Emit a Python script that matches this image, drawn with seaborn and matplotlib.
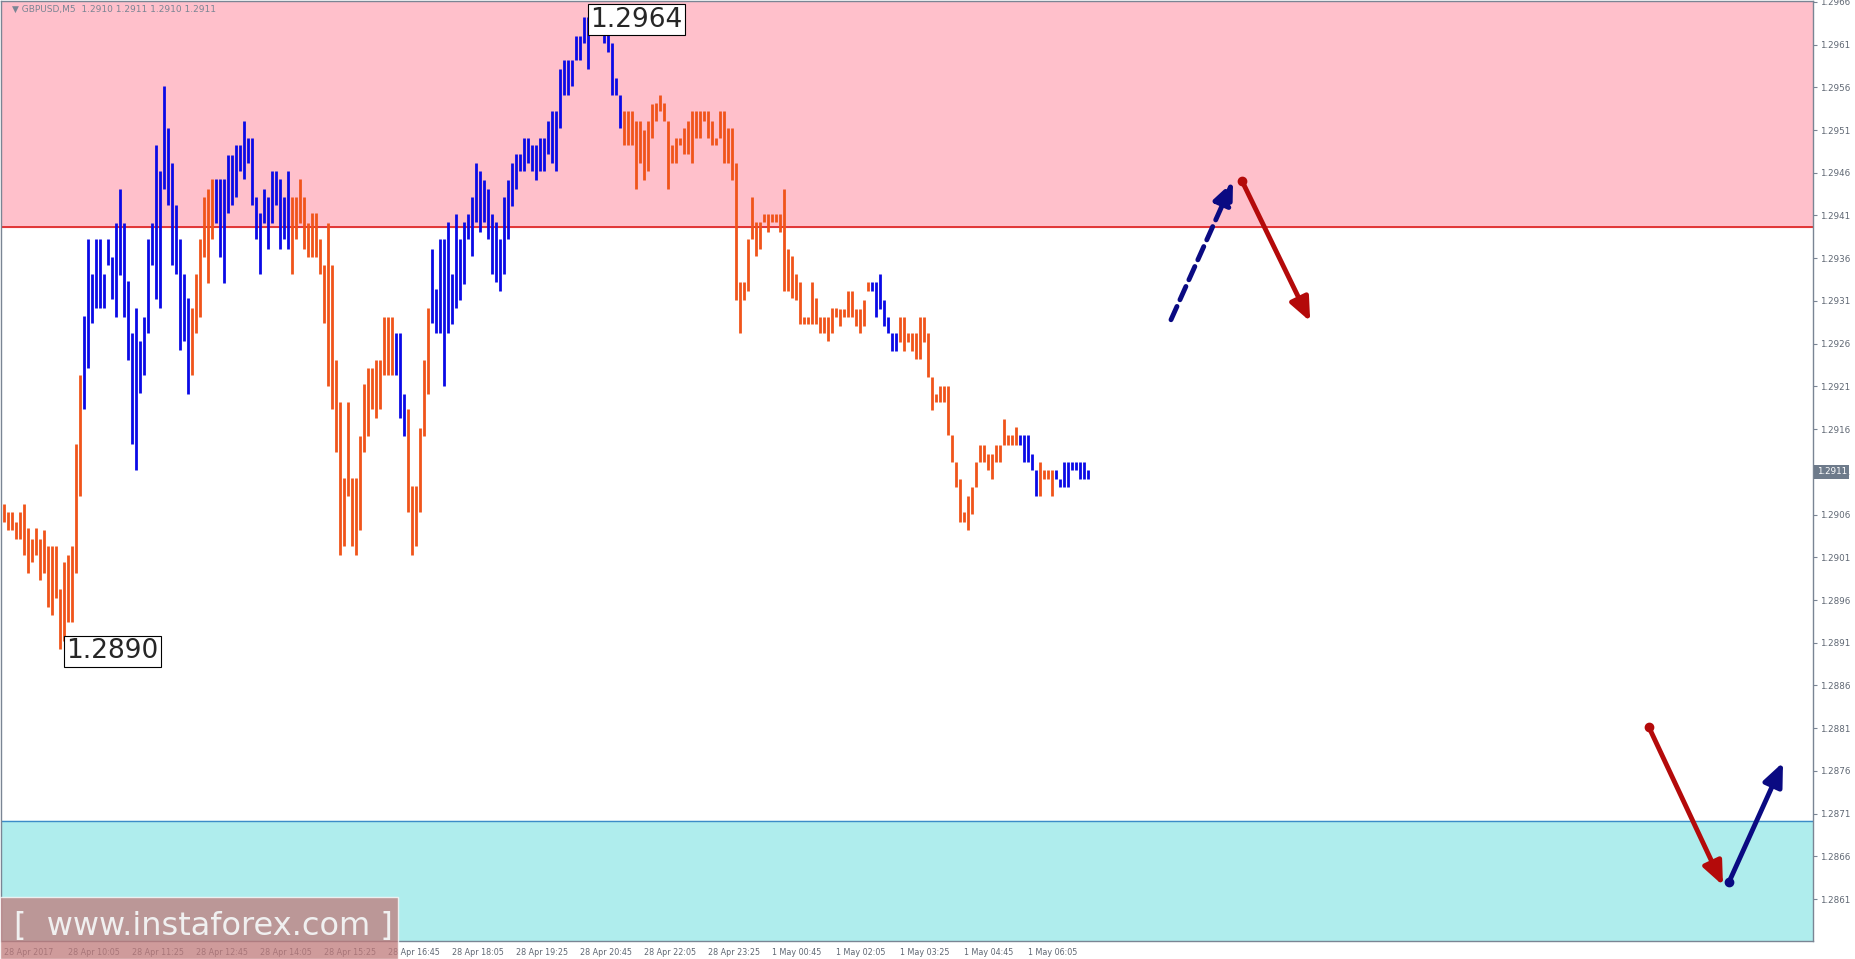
import matplotlib
matplotlib.use("Agg")
import matplotlib.pyplot as plt
import matplotlib.patches as mpatches
import numpy as np
import pandas as pd
import seaborn as sns

# GBPUSD M5 bars, prices as pips above 1.2800
BASE = 1.2800
high_pips = [107.2, 106.3, 106.3, 105.1, 106.3, 107.2, 104.4, 103.2, 104.4, 103.2, 104.2, 102.3, 102.3, 102.3,
             97.3, 100.4, 101.3, 102.3, 114.3, 122.3, 129.2, 138.2, 134.2, 138.2, 138.2, 134.2, 138.2, 136.1,
             140.1, 144.1, 140.1, 133.3, 127.2, 130.2, 126.3, 129.1, 138.2, 140.1, 149.2, 146.2, 156.2, 151.2,
             147.2, 142.2, 138.2, 134.2, 131.4, 130.2, 134.2, 138.2, 143.2, 144.1, 145.3, 145.3, 145.3, 145.3,
             148.1, 148.1, 149.2, 149.2, 152.1, 150.1, 150.1, 143.2, 141.3, 144.1, 143.2, 146.2, 146.2, 145.3,
             143.2, 146.2, 143.2, 143.2, 145.3, 143.2, 140.1, 141.3, 141.3, 138.2, 135.2, 140.1, 135.2, 124.1,
             119.2, 110.3, 119.2, 110.3, 110.3, 115.2, 121.3, 123.2, 123.2, 124.1, 124.1, 129.1, 129.1, 129.1,
             127.2, 127.2, 120.1, 118.3, 109.3, 109.3, 116.1, 124.1, 130.2, 137.1, 132.4, 138.2,
             138.2, 140.2, 134.1, 141.2, 138.2, 140.2, 141.2, 143.2, 147.1, 146.2, 145.1, 144.1, 141.2, 140.2,
             138.2, 143.2, 145.1, 147.1, 148.2, 148.2, 150.1, 150.1, 149.3, 149.3, 150.1, 150.1, 152.1, 153.2,
             153.2, 158.1, 159.2, 159.2, 159.2, 162.0, 162.0, 164.2, 164.2, 164.2, 164.2, 164.2, 164.2, 162.2,
             161.2, 157.1, 155.1, 153.2, 153.2, 153.2, 152.1, 152.1, 151.0, 152.1, 154.0, 154.2, 155.1, 154.2,
             152.1, 149.3, 150.1, 150.1, 151.2, 152.1, 153.2, 153.2, 153.2, 153.2, 153.2, 152.1, 150.1, 153.2,
             153.2, 151.2, 151.2, 147.1, 133.2, 133.2, 138.2, 143.2, 140.2, 140.2, 141.2, 141.2, 141.2, 141.2,
             141.2, 144.1, 137.1, 136.3, 134.1, 133.2, 129.1, 129.1, 133.2, 131.3, 129.1, 129.1, 129.1, 130.2,
             130.2,
             130.1, 130.1, 132.2, 132.2, 130.1, 130.1, 131.1, 133.2, 133.2, 133.2, 134.2, 131.1, 129.1, 127.2,
             127.2, 129.1, 129.1, 127.2, 127.2, 127.2, 129.1, 129.1, 127.2, 122.1, 120.1, 121.1, 121.1, 121.1,
             115.3, 112.1, 110.2, 106.3, 108.2, 109.2, 112.1, 114.1, 114.1, 113.1, 113.1, 114.1, 114.1, 117.2,
             115.3, 115.3, 116.2, 115.3, 115.3, 115.3, 113.1, 111.2, 112.1, 111.2, 111.2, 111.2, 111.2, 110.2,
             112.1, 112.1, 112.1, 112.1, 112.1, 112.1, 111.2]
low_pips = [105.1, 104.2, 104.2, 103.2, 103.2, 101.3, 99.2, 100.4, 101.3, 98.3, 99.2, 95.2, 94.3, 96.2,
            90.3, 91.2, 93.4, 93.4, 99.2, 108.2, 118.3, 123.2, 128.4, 130.2, 130.2, 130.2, 135.2, 131.2,
            129.1, 134.0, 129.1, 124.1, 114.3, 111.2, 120.2, 122.3, 127.2, 135.2, 131.2, 130.2, 144.1, 142.2,
            135.2, 134.2, 125.3, 126.3, 120.1, 122.3, 127.2, 129.1, 136.1, 133.1, 138.2, 140.1, 136.1, 133.1,
            141.3, 142.2, 143.2, 146.2, 145.3, 147.2, 142.2, 138.2, 134.2, 140.1, 137.1, 140.1, 142.2, 137.1,
            138.2, 137.1, 134.2, 138.2, 140.1, 137.1, 136.1, 136.1, 136.1, 134.2, 128.4, 121.1, 118.3, 113.3,
            101.3, 102.3, 108.2, 102.3, 101.3, 104.2, 113.3, 115.2, 118.3, 117.3, 118.3, 122.3, 122.3, 122.3,
            122.3, 117.3, 115.2, 106.3, 101.3, 102.3, 106.3, 115.2, 120.1, 128.4, 127.2, 127.2,
            121.1, 127.2, 128.3, 130.2, 131.1, 133.0, 138.2, 136.3, 140.2, 139.1, 140.2, 138.2, 134.1, 133.2,
            132.2, 134.1, 138.2, 142.1, 144.1, 146.2, 146.2, 147.1, 146.2, 145.1, 146.2, 146.2, 148.2, 147.1,
            146.2, 151.2, 155.1, 155.1, 156.2, 159.2, 159.2, 161.2, 158.1, 162.2, 162.2, 162.2, 161.2, 160.1,
            155.1, 155.1, 151.2, 149.3, 149.3, 149.3, 144.1, 147.1, 145.1, 146.2, 150.1, 152.1, 153.2, 152.1,
            144.1, 147.1, 147.1, 149.3, 148.2, 148.2, 147.1, 150.1, 150.1, 152.1, 150.1, 149.3, 149.3, 150.1,
            147.1, 147.1, 145.1, 131.1, 127.2, 131.1, 132.2, 138.2, 136.3, 137.1, 140.2, 139.1, 140.2, 140.2,
            139.1, 132.2, 132.2, 131.3, 131.1, 128.3, 128.3, 128.3, 128.3, 128.3, 127.2, 127.2, 126.3, 127.2,
            129.1,
            128.1, 129.1, 129.1, 129.1, 128.1, 127.2, 128.1, 132.2, 132.2, 129.1, 130.1, 128.1, 127.2, 125.2,
            125.2, 126.2, 125.2, 126.2, 125.2, 124.2, 124.2, 126.2, 122.1, 118.2, 119.2, 119.2, 119.2, 115.3,
            112.1, 109.2, 105.1, 105.1, 104.2, 106.1, 109.2, 112.1, 112.1, 111.2, 110.2, 112.1, 112.1, 114.1,
            114.1, 114.1, 114.1, 114.1, 112.1, 112.1, 111.2, 108.2, 108.2, 110.2, 110.2, 108.2, 110.2, 109.2,
            109.2, 109.2, 111.2, 111.2, 110.2, 110.2, 110.2]
# wave colouring: runs of (direction, number of bars)
wave_runs = [("down", 20), ("up", 27), ("down", 6), ("up", 19), ("down", 26), ("up", 3), ("down", 6),
             ("up", 48), ("down", 62), ("up", 7), ("down", 30), ("up", 5), ("down", 4), ("up", 9)]

time_labels = ["28 Apr 2017", "28 Apr 10:05", "28 Apr 11:25", "28 Apr 12:45", "28 Apr 14:05", "28 Apr 15:25",
               "28 Apr 16:45", "28 Apr 18:05", "28 Apr 19:25", "28 Apr 20:45", "28 Apr 22:05", "28 Apr 23:25",
               "1 May 00:45", "1 May 02:05", "1 May 03:25", "1 May 04:45", "1 May 06:05"]
resistance = 1.29396
support = 1.28702
last_price = 1.2911
# forecast arrows: (bar, price) start -> end
fc_up_dash = [(291.8, 1.29288), (307.3, 1.29450)]
fc_down_1 = [(309.6, 1.29450), (326.6, 1.29286)]
fc_down_2 = [(411.3, 1.28811), (429.8, 1.28626)]
fc_up_2 = [(431.3, 1.28630), (444.8, 1.28770)]

n = min(len(high_pips), len(low_pips))
dirs = []
for d, c in wave_runs:
    dirs += [d] * c
df = pd.DataFrame({"bar": np.arange(n),
                   "high": BASE + np.array(high_pips[:n]) / 1e4,
                   "low": BASE + np.array(low_pips[:n]) / 1e4,
                   "wave": (dirs + ["up"] * n)[:n]})

sns.set_style("white")
plt.rcParams['font.family'] = ['DejaVu Sans']
W, H = 1855, 959
fig = plt.figure(figsize=(W / 100, H / 100), dpi=100)
ax = fig.add_axes([1 / W, 18 / H, 1812 / W, 940 / H])

ymin, ymax = 1.28561, 1.29661
xmin, xmax = -0.7, 452.3
ax.set_xlim(xmin, xmax)
ax.set_ylim(ymin, ymax)

ax.axhspan(resistance, ymax, color="#FFC0CB", zorder=0)
ax.axhspan(ymin, support, color="#AFEDED", zorder=0)
ax.axhline(resistance, color="#DC1E1E", lw=1.2, zorder=1)
ax.axhline(support, color="#3C8CC8", lw=1.0, zorder=1)

pal = {"up": "#0A0AE6", "down": "#F0541A"}
for w, g in df.groupby("wave"):
    ax.vlines(g["bar"], g["low"], g["high"], color=pal[w], lw=2.0, zorder=3)

# price labels for the extremes
lo_i = df["low"].idxmin()
hi_i = df["high"].idxmax()
box = dict(boxstyle="square,pad=0.1", fc="white", ec="black", lw=0.8)
ax.text(lo_i + 1.6, df.loc[lo_i, "low"] - 0.00003, "1.2890", fontsize=19, va="center", ha="left", bbox=box, zorder=5)
ax.text(hi_i + 1.6, df.loc[hi_i, "high"] - 0.00003, "1.2964", fontsize=19, va="center", ha="left", bbox=box, zorder=5)


def arrow(pts, color, dashed=False):
    (x0, y0), (x1, y1) = pts
    ax.annotate("", xy=(x1, y1), xytext=(x0, y0), zorder=6,
                arrowprops=dict(arrowstyle="-|>,head_length=1.4,head_width=0.6", color=color, lw=3.5,
                                linestyle=(0, (3, 1.5)) if dashed else "-", shrinkA=0, shrinkB=0))
    if not dashed:
        ax.plot([x0], [y0], "o", color=color, ms=6, zorder=6)


arrow(fc_up_dash, "#0A0A82", dashed=True)
arrow(fc_down_1, "#B40A0A")
arrow(fc_down_2, "#B40A0A")
arrow(fc_up_2, "#0A0A82")

# axes styling
for s in ax.spines.values():
    s.set_color("#7A8594")
    s.set_linewidth(1)
ax.yaxis.tick_right()
yt = np.arange(1.2861, 1.29661, 0.0005)
ax.set_yticks(yt)
ax.set_yticklabels([f"{v:.4f}" for v in yt])
ax.tick_params(axis="y", colors="#7A8594", labelsize=6.3, length=3, direction="out", labelcolor="#5F6773", pad=2)
ax.set_xticks(np.arange(len(time_labels)) * 16)
ax.set_xticklabels(time_labels, ha="left")
ax.tick_params(axis="x", colors="#7A8594", labelsize=5.8, length=3, direction="out", labelcolor="#5F6773", pad=2)
ax.text(1.002, (last_price - ymin) / (ymax - ymin), f"{last_price:.4f}", transform=ax.transAxes,
        fontsize=6.3, color="white", va="center", ha="left",
        bbox=dict(boxstyle="square,pad=0.25", fc="#6E7B8B", ec="none"))

fig.text(12 / W, 1 - 9 / H, "\u25BC GBPUSD,M5  1.2910 1.2911 1.2910 1.2911", fontsize=6.5, color="#7A8594", va="center")

# watermark
fig.patches.append(mpatches.Rectangle((0, 0), 398 / W, 62 / H, transform=fig.transFigure,
                                      fc="#C07A7A", alpha=0.75, zorder=10))
fig.text(14 / W, 32 / H, "[  www.instaforex.com ]", fontsize=23, color="#F0F0F0", va="center", zorder=11)

fig.savefig("out.png", dpi=100)
